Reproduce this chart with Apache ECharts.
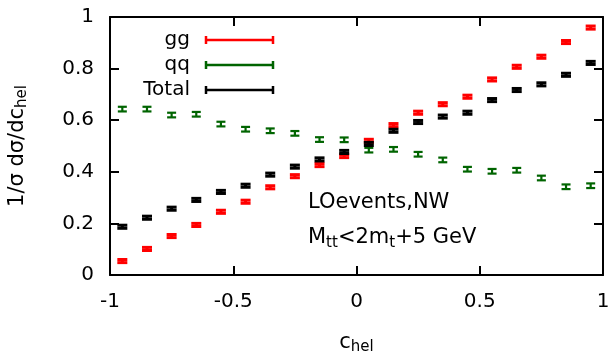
<!DOCTYPE html>
<html><head><meta charset="utf-8">
<script src="https://cdn.jsdelivr.net/npm/echarts@6/dist/echarts.min.js"></script>
<style>html,body{margin:0;padding:0;background:#fff}#c{width:613px;height:351px}</style>
</head><body><div id="c"></div>
<script>
const chel = [-0.95,-0.85,-0.75,-0.65,-0.55,-0.45,-0.35,-0.25,-0.15,-0.05,0.05,0.15,0.25,0.35,0.45,0.55,0.65,0.75,0.85,0.95];
const gg = [0.054,0.101,0.151,0.194,0.245,0.284,0.340,0.383,0.426,0.461,0.520,0.581,0.629,0.662,0.691,0.758,0.807,0.846,0.903,0.959];
const qq = [0.643,0.643,0.620,0.623,0.585,0.565,0.559,0.549,0.525,0.524,0.484,0.487,0.468,0.446,0.410,0.402,0.406,0.376,0.342,0.346];
const total = [0.187,0.222,0.257,0.291,0.322,0.346,0.389,0.420,0.448,0.477,0.508,0.559,0.593,0.614,0.629,0.678,0.717,0.739,0.776,0.822];
const ggErr = [0.006,0.006,0.006,0.006,0.006,0.006,0.006,0.006,0.006,0.006,0.006,0.006,0.006,0.006,0.006,0.006,0.006,0.006,0.006,0.006];
const qqErr = [0.009,0.009,0.009,0.009,0.009,0.009,0.009,0.009,0.009,0.009,0.009,0.009,0.009,0.009,0.009,0.009,0.009,0.009,0.009,0.009];
const totalErr = [0.006,0.006,0.006,0.006,0.006,0.006,0.006,0.006,0.006,0.006,0.006,0.006,0.006,0.006,0.006,0.006,0.006,0.006,0.006,0.006];
const xTicks = ['-1','-0.5','0','0.5','1'];
const yTicks = ['0','0.2','0.4','0.6','0.8','1'];

const FONT = 'DejaVu Sans';
function errSeries(name, vals, errs, color, lw, capW) {
  return {
    type: 'custom', name: name,
    data: chel.map((x, i) => [x, vals[i], errs[i]]),
    encode: {x: 0, y: 1},
    renderItem: function (params, api) {
      const x = api.value(0), y = api.value(1), e = api.value(2);
      const p = api.coord([x, y]);
      const hi = api.coord([x, y + e]);
      const lo = api.coord([x, y - e]);
      const hw = capW / 2;
      const st = {stroke: color, lineWidth: lw};
      return {type: 'group', children: [
        {type: 'line', shape: {x1: p[0], y1: hi[1], x2: p[0], y2: lo[1]}, style: st},
        {type: 'line', shape: {x1: p[0] - hw, y1: hi[1], x2: p[0] + hw, y2: hi[1]}, style: st},
        {type: 'line', shape: {x1: p[0] - hw, y1: lo[1], x2: p[0] + hw, y2: lo[1]}, style: st}
      ]};
    }
  };
}

const chart = echarts.init(document.getElementById('c'));
const axLine = () => ({show: true, onZero: false, lineStyle: {color: '#000', width: 2}});
const tick = () => ({show: true, inside: true, length: 9, lineStyle: {color: '#000', width: 2}});
const legendY = [40, 65, 90];
const legendNames = ['gg', 'qq', 'Total'];
const legendColors = ['#ff0000', '#006400', '#000000'];
const graphics = [];
legendNames.forEach((n, i) => {
  graphics.push({type: 'text', x: 190, y: legendY[i], style: {text: n, font: '20px "DejaVu Sans"', fill: '#000', align: 'right', verticalAlign: 'middle'}});
  const st = {stroke: legendColors[i], lineWidth: 2.5};
  graphics.push({type: 'line', shape: {x1: 206, y1: legendY[i], x2: 273, y2: legendY[i]}, style: st});
  graphics.push({type: 'line', shape: {x1: 206, y1: legendY[i] - 4, x2: 206, y2: legendY[i] + 4}, style: st});
  graphics.push({type: 'line', shape: {x1: 273, y1: legendY[i] - 4, x2: 273, y2: legendY[i] + 4}, style: st});
});
graphics.push({type: 'text', x: 308, y: 203, style: {text: 'LOevents,NW', font: '21px "DejaVu Sans"', fill: '#000', verticalAlign: 'middle'}});
graphics.push({type: 'text', x: 308, y: 238, style: {
  text: '{a|M}{b|tt}{a|<2m}{b|t}{a|+5 GeV}', verticalAlign: 'middle',
  rich: {a: {fontFamily: FONT, fontSize: 21, fill: '#000'}, b: {fontFamily: FONT, fontSize: 15, fill: '#000', padding: [10, 0, 0, 0]}}
}});

chart.setOption({
  animation: false,
  backgroundColor: '#fff',
  grid: {left: 110, right: 10, top: 17, bottom: 76, containLabel: false, outerBoundsMode: 'none'},
  xAxis: [{
    type: 'value', min: -1, max: 1, interval: 0.5,
    axisLine: axLine(), axisTick: tick(), splitLine: {show: false},
    axisLabel: {fontFamily: FONT, fontSize: 20, color: '#000', margin: 17, formatter: (v) => xTicks[Math.round((v + 1) / 0.5)]},
    name: '{a|c}{b|hel}', nameLocation: 'middle', nameGap: 55,
    nameTextStyle: {rich: {a: {fontFamily: FONT, fontSize: 21, color: '#000'}, b: {fontFamily: FONT, fontSize: 15, color: '#000', padding: [10, 0, 0, 0]}}}
  }, {
    type: 'value', min: -1, max: 1, interval: 0.5, position: 'top',
    axisLine: axLine(), axisTick: tick(), axisLabel: {show: false}, splitLine: {show: false}
  }],
  yAxis: [{
    type: 'value', min: 0, max: 1, interval: 0.2,
    axisLine: axLine(), axisTick: tick(), splitLine: {show: false},
    axisLabel: {fontFamily: FONT, fontSize: 20, color: '#000', margin: 16, formatter: (v) => yTicks[Math.round(v / 0.2)]},
    name: '{a|1/σ dσ/dc}{b|hel}', nameLocation: 'middle', nameGap: 80, nameRotate: 90,
    nameTextStyle: {rich: {a: {fontFamily: FONT, fontSize: 21, color: '#000'}, b: {fontFamily: FONT, fontSize: 15, color: '#000', padding: [10, 0, 0, 0]}}}
  }, {
    type: 'value', min: 0, max: 1, interval: 0.2, position: 'right',
    axisLine: axLine(), axisTick: tick(), axisLabel: {show: false}, splitLine: {show: false}
  }],
  series: [
    errSeries('gg', gg, ggErr, '#ff0000', 3, 10),
    errSeries('qq', qq, qqErr, '#006400', 2.2, 9),
    errSeries('Total', total, totalErr, '#000000', 3, 10)
  ],
  graphic: graphics
});
</script></body></html>
